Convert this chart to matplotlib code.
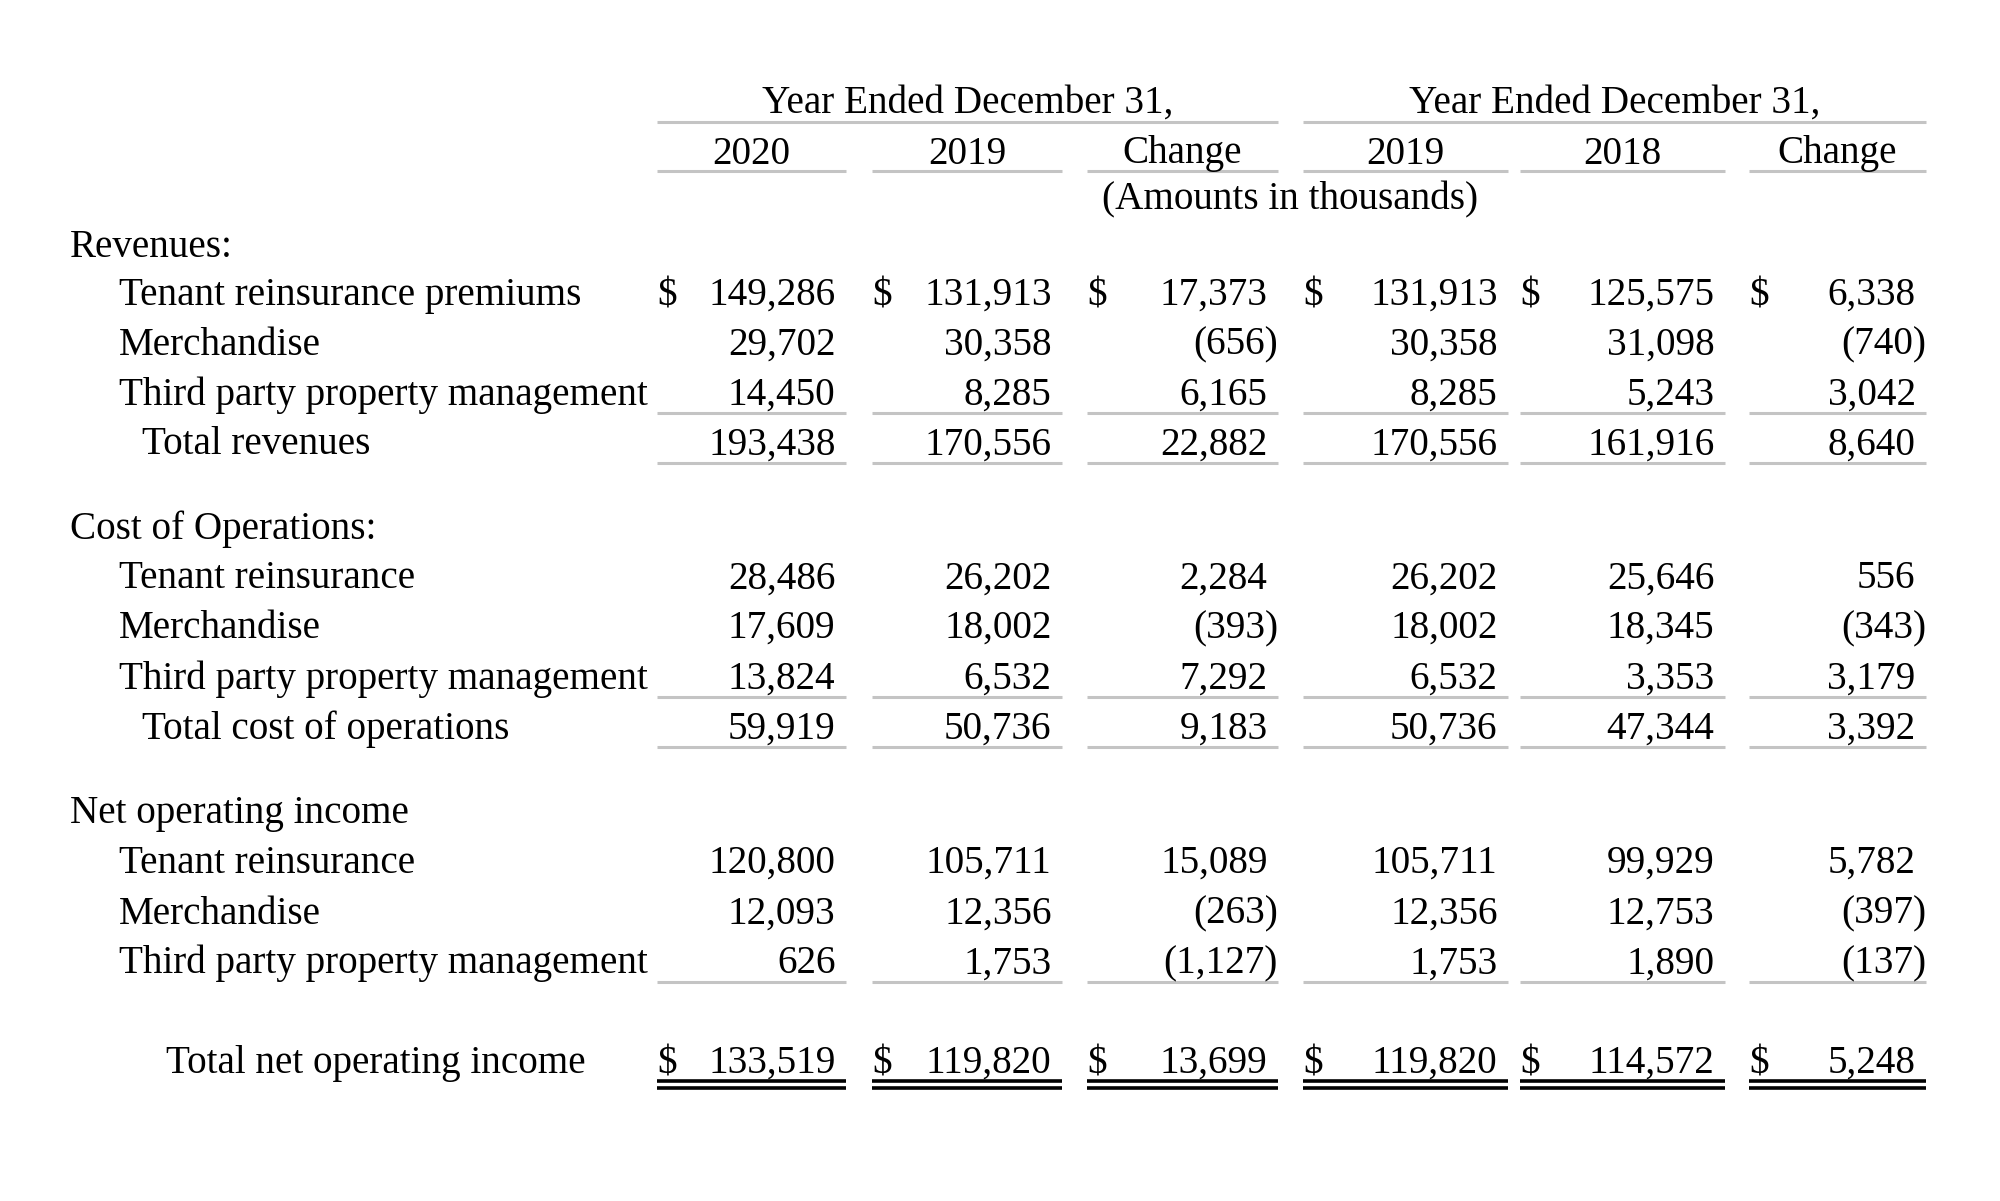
import matplotlib
matplotlib.use("Agg")
import matplotlib.pyplot as plt

# ---------------- data ----------------
group_title = "Year Ended December 31,"
col_headers = ["2020", "2019", "Change", "2019", "2018", "Change"]
units_note = "(Amounts in thousands)"

sections = ["Revenues:", "Cost of Operations:", "Net operating income"]

rev_labels = ["Tenant reinsurance premiums", "Merchandise", "Third party property management"]
rev_values = [
    [149286, 131913, 17373, 131913, 125575, 6338],
    [29702, 30358, -656, 30358, 31098, -740],
    [14450, 8285, 6165, 8285, 5243, 3042],
]
rev_total_label = "Total revenues"
rev_total = [193438, 170556, 22882, 170556, 161916, 8640]

cost_labels = ["Tenant reinsurance", "Merchandise", "Third party property management"]
cost_values = [
    [28486, 26202, 2284, 26202, 25646, 556],
    [17609, 18002, -393, 18002, 18345, -343],
    [13824, 6532, 7292, 6532, 3353, 3179],
]
cost_total_label = "Total cost of operations"
cost_total = [59919, 50736, 9183, 50736, 47344, 3392]

noi_labels = ["Tenant reinsurance", "Merchandise", "Third party property management"]
noi_values = [
    [120800, 105711, 15089, 105711, 99929, 5782],
    [12093, 12356, -263, 12356, 12753, -397],
    [626, 1753, -1127, 1753, 1890, -137],
]
noi_total_label = "Total net operating income"
noi_total = [133519, 119820, 13699, 119820, 114572, 5248]

# ---------------- layout (pixel space) ----------------
W, H = 2000, 1201
DPI = 100
FONT = "Liberation Serif"
FS = 28.2
GRAY = "#c4c4c4"

col_left = [657, 872, 1087, 1303, 1520, 1749]
col_right = [846, 1062, 1278, 1508, 1725, 1926]
paren_w = 10.5

x_sec = 70
x_item = 119
x_tot = 142
x_grand = 166
dy = 13  # center -> baseline


def fmt(v):
    s = f"{abs(v):,}"
    return f"({s})" if v < 0 else s


fig = plt.figure(figsize=(W / DPI, H / DPI), dpi=DPI)
ax = fig.add_axes([0, 0, 1, 1])
ax.set_xlim(0, W)
ax.set_ylim(H, 0)
ax.axis("off")


def txt(x, y, s, ha="left"):
    ax.text(x, y + dy, s, ha=ha, va="baseline", fontsize=FS, family=FONT, color="black")


def hline(y, x0, x1, color=GRAY, lw=2.2):
    ax.plot([x0, x1], [y, y], color=color, lw=lw, solid_capstyle="butt")


def value_row(y, vals, dollar=False):
    for j, v in enumerate(vals):
        if v < 0:
            txt(col_right[j], y, fmt(v), ha="right")
        else:
            txt(col_right[j] - paren_w, y, fmt(v), ha="right")
        if dollar:
            txt(col_left[j], y, "$")


def col_lines(y, color=GRAY, lw=2.2):
    for j in range(6):
        hline(y, col_left[j], col_right[j], color=color, lw=lw)


# headers
y_h1, y_h2, y_h3 = 99.5, 150.5, 196.5
for g in range(2):
    x0, x1 = col_left[3 * g], col_right[3 * g + 2]
    txt((x0 + x1) / 2, y_h1, group_title, ha="center")
    hline(122, x0, x1)
for j, h in enumerate(col_headers):
    txt((col_left[j] + col_right[j]) / 2, y_h2, h, ha="center")
col_lines(171)
txt((col_right[2] + col_left[3]) / 2, y_h3, units_note, ha="center")

# Revenues
txt(x_sec, 243.6, sections[0])
rev_y = [292, 341.8, 391.6]
for i, (lab, vals) in enumerate(zip(rev_labels, rev_values)):
    txt(x_item, rev_y[i], lab)
    value_row(rev_y[i], vals, dollar=(i == 0))
col_lines(413)
txt(x_tot, 441.3, rev_total_label)
value_row(441.3, rev_total)
col_lines(463)

# Cost of operations
txt(x_sec, 525.5, sections[1])
cost_y = [575.2, 625, 676]
for i, (lab, vals) in enumerate(zip(cost_labels, cost_values)):
    txt(x_item, cost_y[i], lab)
    value_row(cost_y[i], vals)
col_lines(697)
txt(x_tot, 725.7, cost_total_label)
value_row(725.7, cost_total)
col_lines(747)

# Net operating income
txt(x_sec, 810, sections[2])
noi_y = [859.7, 910.7, 960.4]
for i, (lab, vals) in enumerate(zip(noi_labels, noi_values)):
    txt(x_item, noi_y[i], lab)
    value_row(noi_y[i], vals)
col_lines(982)

txt(x_grand, 1060, noi_total_label)
value_row(1060, noi_total, dollar=True)
col_lines(1081, color="black", lw=2.6)
col_lines(1088, color="black", lw=2.6)

fig.savefig("out.png", dpi=DPI, facecolor="white")
